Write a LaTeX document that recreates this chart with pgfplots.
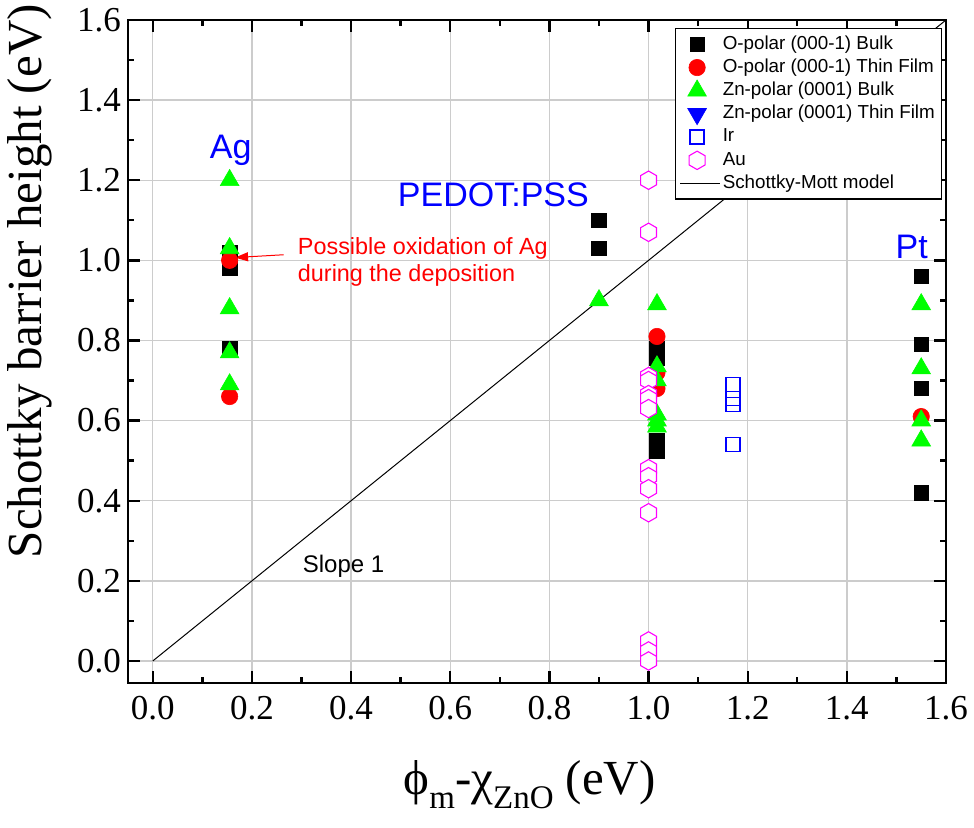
\documentclass[border=0pt]{standalone}
\usepackage{fontspec}
\setmainfont{Liberation Serif}
\newfontfamily\arial{Liberation Sans}
\usepackage{pgfplots}
\usepackage{pgfplotstable}
\pgfplotsset{compat=1.18}
\usetikzlibrary{arrows.meta}

\definecolor{cgreen}{RGB}{0,255,0}
\definecolor{cred}{RGB}{255,0,0}
\definecolor{cblue}{RGB}{0,0,255}
\definecolor{cmag}{RGB}{255,0,255}

\newcommand{\lsub}[1]{\raisebox{-7pt}{\fontsize{16.5}{18}\selectfont #1}}

\pgfdeclareplotmark{hexagon}{%
  \pgfpathmoveto{\pgfqpointpolar{90}{\pgfplotmarksize}}%
  \pgfpathlineto{\pgfqpointpolar{150}{\pgfplotmarksize}}%
  \pgfpathlineto{\pgfqpointpolar{210}{\pgfplotmarksize}}%
  \pgfpathlineto{\pgfqpointpolar{270}{\pgfplotmarksize}}%
  \pgfpathlineto{\pgfqpointpolar{330}{\pgfplotmarksize}}%
  \pgfpathlineto{\pgfqpointpolar{30}{\pgfplotmarksize}}%
  \pgfpathclose
  \pgfusepathqfillstroke
}

\pgfplotstableread{
x y
0.155 1.02
0.155 0.98
0.155 0.78
0.90 1.10
0.90 1.03
1.017 0.78
1.017 0.755
1.017 0.55
1.017 0.525
1.55 0.96
1.55 0.79
1.55 0.68
1.55 0.42
}\obulk

\pgfplotstableread{
x y
0.155 1.00
0.155 0.66
1.017 0.81
1.017 0.72
1.017 0.68
1.55 0.61
}\ofilm

\pgfplotstableread{
x y
0.155 1.20
0.155 1.03
0.155 0.88
0.155 0.77
0.155 0.69
0.90 0.90
1.017 0.89
1.017 0.735
1.017 0.70
1.017 0.615
1.017 0.60
1.017 0.585
1.55 0.89
1.55 0.73
1.55 0.60
1.55 0.55
}\znbulk

\pgfplotstableread{
x y
1.17 0.69
1.17 0.655
1.17 0.64
1.17 0.54
}\ir

\pgfplotstableread{
x y
1.00 1.20
1.00 1.07
1.00 0.71
1.00 0.70
1.00 0.665
1.00 0.655
1.00 0.63
1.00 0.48
1.00 0.46
1.00 0.43
1.00 0.37
1.00 0.05
1.00 0.025
1.00 0.0
}\au

\begin{document}
\begin{tikzpicture}
\begin{axis}[
  name=ax,
  scale only axis, width=409pt, height=331.5pt,
  xmin=-0.05, xmax=1.6, ymin=-0.055, ymax=1.6,
  xtick={0,0.2,0.4,0.6,0.8,1.0,1.2,1.4,1.6},
  ytick={0,0.2,0.4,0.6,0.8,1.0,1.2,1.4,1.6},
  minor x tick num=1, minor y tick num=1,
  tick align=inside, major tick length=6pt, minor tick length=3pt,
  every tick/.style={black, line width=1.2pt},
  axis line style={line width=1.3pt},
  grid=major, major grid style={black!20, line width=0.7pt},
  /pgf/number format/.cd, fixed, fixed zerofill, precision=1, assume math mode=true,
  /pgfplots/.cd,
  ticklabel style={font=\fontsize{17.5}{20}\selectfont},
  xticklabel style={yshift=-3pt},
  xlabel={ϕ\lsub{m}-χ\lsub{ZnO} (eV)},
  ylabel={Schottky barrier height (eV)},
  xlabel style={at={(axis description cs:0.491,0)}, anchor=center, yshift=-51pt, font=\fontsize{24.5}{28}\selectfont},
  ylabel style={at={(axis description cs:0,0.606)}, anchor=center, yshift=49pt, font=\fontsize{24.5}{28}\selectfont},
  legend style={at={(1,1)}, anchor=north east, xshift=-2pt, yshift=-4pt,
    draw=black, line width=0.75pt, inner sep=2pt,
    font=\arial\fontsize{9.4}{10}\selectfont,
    nodes={inner sep=1.2pt, text height=7pt, text depth=2.2pt},
    row sep=0pt},
  legend cell align=left,
  legend image code/.code={\draw[mark repeat=2,mark phase=2,#1] plot coordinates {(0.05cm,0cm) (0.35cm,0cm) (0.75cm,0cm)};},
]
\addplot[only marks, mark=square*, mark size=3.6pt, draw=black, fill=black, line width=0.3pt] table {\obulk};
\addlegendentry{O-polar (000-1) Bulk}
\addplot[only marks, mark=*, mark size=4.1pt, draw=cred, fill=cred, line width=0.3pt] table {\ofilm};
\addlegendentry{O-polar (000-1) Thin Film}
\addplot[only marks, mark=triangle*, mark size=5.4pt, draw=cgreen, fill=cgreen, line width=0.3pt] table {\znbulk};
\addlegendentry{Zn-polar (0001) Bulk}
\addlegendimage{only marks, mark=triangle*, mark size=5.4pt, draw=cblue, fill=cblue, line width=0.3pt, mark options={rotate=180}}
\addlegendentry{Zn-polar (0001) Thin Film}
\addplot[only marks, mark=square, mark size=3.5pt, draw=cblue, line width=0.7pt, mark options={fill=white}] table {\ir};
\addlegendentry{Ir}
\addplot[only marks, mark=hexagon, mark size=4.6pt, draw=cmag, fill=white, line width=0.55pt] table {\au};
\addlegendentry{Au}
\addplot[black, line width=0.5pt] coordinates {(0,0) (1.6,1.6)};
\addlegendentry{Schottky-Mott model}

\node[cblue, font=\arial\fontsize{17}{20}\selectfont, anchor=base] at (axis cs:0.157,1.2536) {Ag};
\node[cblue, font=\arial\fontsize{17}{20}\selectfont, anchor=base] at (axis cs:0.687,1.134) {PEDOT:PSS};
\node[cblue, font=\arial\fontsize{17}{20}\selectfont, anchor=base] at (axis cs:1.531,1.004) {Pt};
\node[cred, font=\arial\fontsize{11.7}{13.5}\selectfont, anchor=west, align=left, inner sep=0pt] at (axis cs:0.292,0.996) {Possible oxidation of Ag\\during the deposition};
\draw[cred, line width=0.5pt, -{Triangle[length=6.5pt,width=4.5pt]}] (axis cs:0.264,1.014) -- (axis cs:0.166,1.007);
\node[black, font=\arial\fontsize{12}{14}\selectfont, anchor=west, inner sep=0pt] at (axis cs:0.302,0.237) {Slope 1};
\end{axis}
\pgfresetboundingbox
\useasboundingbox (ax.south west) ++(-64pt,-72.5pt) rectangle ++(487pt,414pt);
\end{tikzpicture}
\end{document}
